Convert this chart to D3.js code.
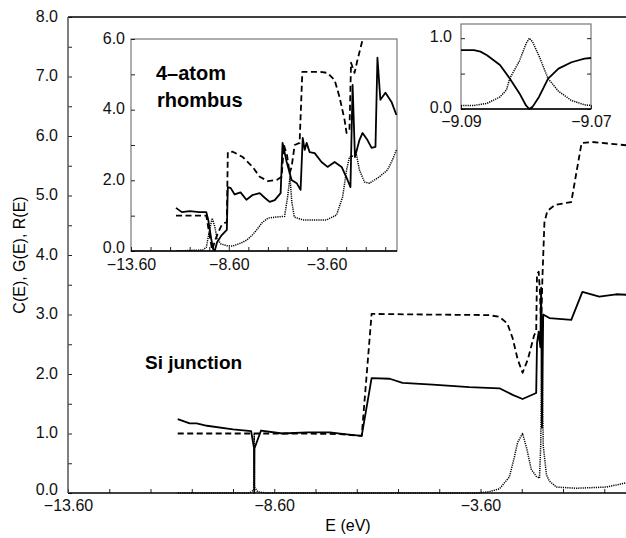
<!DOCTYPE html>
<html>
<head>
<meta charset="utf-8">
<script src="https://cdn.jsdelivr.net/npm/d3@7"></script>
<style>
  body { margin: 0; background: #fff; }
  svg { display: block; font-family: "Liberation Sans", Arial, sans-serif; }
</style>
</head>
<body>
<div id="chart"></div>
<script>
/*global d3*/

// ---- data: [E (eV), value] ----
// main panel (Si junction)
var mainC = [[-10.94,1.0],[-8.0,1.0],[-7.0,0.99],[-6.48,0.96],[-6.24,3.01],[-5.0,3.0],[-3.4,2.99],[-3.14,2.96],
  [-2.95,2.85],[-2.82,2.6],[-2.7,2.25],[-2.58,2.02],[-2.45,2.25],[-2.3,2.65],[-2.25,2.72],[-2.23,3.68],[-2.19,3.72],
  [-2.16,3.4],[-2.13,2.75],[-2.1,3.6],[-2.05,4.55],[-1.98,4.74],[-1.8,4.84],[-1.4,4.89],[-1.15,5.88],[-0.9,5.9],[0,5.84]];
var mainG = [[-10.94,1.24],[-10.65,1.17],[-10.48,1.17],[-10.23,1.13],[-9.6,1.07],[-9.16,1.04],[-9.09,0.75],[-9.085,0.0],
  [-9.08,0.75],[-8.92,1.05],[-8.4,1.0],[-7.8,1.02],[-7.25,1.02],[-6.9,0.99],[-6.48,0.96],[-6.24,1.93],[-5.8,1.92],
  [-5.49,1.85],[-4.76,1.82],[-3.87,1.78],[-3.14,1.76],[-2.82,1.65],[-2.58,1.58],[-2.25,1.68],[-2.23,2.52],[-2.19,2.71],
  [-2.15,2.45],[-2.13,3.45],[-2.11,1.1],[-2.08,3.0],[-1.93,2.94],[-1.4,2.91],[-1.13,3.38],[-0.72,3.3],[-0.31,3.34],[0,3.33]];
var mainR = [[-10.94,0.0],[-9.2,0.0],[-9.1,0.05],[-9.085,1.0],[-9.08,0.1],[-9.0,0.02],[-8.8,0.0],[-3.7,0.0],[-3.4,0.02],
  [-3.14,0.07],[-2.9,0.27],[-2.78,0.6],[-2.7,0.85],[-2.58,1.0],[-2.48,0.75],[-2.37,0.4],[-2.25,0.28],[-2.17,0.25],
  [-2.14,0.8],[-2.11,2.75],[-2.08,0.8],[-2.0,0.3],[-1.93,0.2],[-1.76,0.1],[-1.28,0.08],[-0.55,0.1],[0,0.18]];

// inset: 4-atom rhombus
var rhombC = [[-11.3,1.0],[-9.75,1.0],[-9.6,0.5],[-9.45,0.03],[-9.3,0.3],[-9.16,0.5],[-8.96,0.74],[-8.7,0.83],[-8.65,2.8],
  [-8.4,2.81],[-7.89,2.66],[-7.38,2.38],[-7.02,2.1],[-6.6,1.98],[-6.15,2.01],[-5.9,2.1],[-5.78,3.0],[-5.62,2.7],[-5.49,2.2],
  [-5.39,2.38],[-5.23,3.0],[-4.98,3.06],[-4.84,5.07],[-3.96,5.07],[-3.55,5.04],[-3.19,4.84],[-2.94,4.36],[-2.68,3.71],
  [-2.58,3.34],[-2.43,3.43],[-2.35,5.33],[-2.17,5.04],[-2.02,5.41],[-1.76,5.98],[-1.5,6.3]];
var rhombG = [[-11.3,1.22],[-11.0,1.1],[-10.6,1.13],[-10.1,1.1],[-9.75,1.1],[-9.65,0.88],[-9.5,0.35],[-9.4,0.05],[-9.32,0.0],
  [-9.2,0.25],[-8.96,0.45],[-8.7,0.6],[-8.65,1.81],[-8.5,1.78],[-8.3,1.6],[-8.0,1.66],[-7.7,1.45],[-7.4,1.58],[-7.02,1.64],
  [-6.75,1.5],[-6.51,1.39],[-6.25,1.44],[-5.95,1.64],[-5.85,3.06],[-5.64,2.52],[-5.39,2.01],[-5.13,1.92],[-4.93,1.73],
  [-4.82,3.2],[-4.72,2.86],[-4.62,3.06],[-4.47,2.8],[-4.21,2.77],[-3.86,2.52],[-3.55,2.38],[-3.19,2.52],[-2.83,2.38],
  [-2.53,2.01],[-2.38,1.81],[-2.27,4.7],[-2.15,2.66],[-1.92,3.14],[-1.76,3.34],[-1.51,3.14],[-1.3,2.92],[-1.1,2.95],
  [-1.0,5.47],[-0.85,4.28],[-0.59,4.48],[-0.28,4.22],[-0.03,3.85]];
var rhombR = [[-11.3,0.0],[-9.93,0.03],[-9.75,0.1],[-9.6,0.55],[-9.45,0.93],[-9.32,0.7],[-9.2,0.35],[-9.0,0.2],[-8.7,0.15],
  [-8.4,0.14],[-8.0,0.22],[-7.68,0.31],[-7.4,0.45],[-7.17,0.6],[-6.9,0.8],[-6.6,0.93],[-6.2,0.96],[-5.75,0.98],[-5.6,1.5],
  [-5.47,2.1],[-5.38,1.4],[-5.25,0.96],[-4.82,0.88],[-3.6,0.88],[-3.09,1.02],[-2.78,1.53],[-2.58,2.29],[-2.43,2.66],
  [-2.07,2.72],[-1.92,2.29],[-1.66,1.95],[-1.4,1.92],[-0.9,2.1],[-0.49,2.29],[-0.23,2.58],[-0.03,2.86]];

// inset: zoom on the antiresonance near -9.08 eV
var zoomG = [[-9.090,0.83],[-9.088,0.83],[-9.087,0.81],[-9.086,0.76],[-9.084,0.62],[-9.0825,0.43],[-9.081,0.22],
  [-9.080,0.05],[-9.0795,0.0],[-9.079,0.03],[-9.078,0.17],[-9.0766,0.43],[-9.075,0.57],[-9.073,0.66],[-9.071,0.71],[-9.070,0.72]];
var zoomR = [[-9.090,0.05],[-9.088,0.05],[-9.086,0.08],[-9.084,0.17],[-9.083,0.27],[-9.0825,0.43],[-9.081,0.68],
  [-9.080,0.92],[-9.0795,1.0],[-9.079,0.95],[-9.078,0.75],[-9.077,0.52],[-9.0766,0.43],[-9.075,0.25],[-9.073,0.12],
  [-9.071,0.06],[-9.070,0.05]];

// tick labels
var mainXLabels = [-13.6, -8.6, -3.6];
var mainYLabels = [0, 1, 2, 3, 4, 5, 6, 7, 8];
var rhombXLabels = [-13.6, -8.6, -3.6];
var rhombYLabels = [0, 2, 4, 6];
var zoomXLabels = [-9.09, -9.07];
var zoomYLabels = [0, 1];

var width = 626, height = 538;

var svg = d3.select("#chart").append("svg")
    .attr("width", width)
    .attr("height", height);

var fmt1 = d3.format(".1f"), fmt2 = d3.format(".2f");

function near(list, v) { return list.some(function(t) { return Math.abs(t - v) < 1e-6; }); }

function drawSeries(g, x, y, data, style, clipId) {
  var line = d3.line().x(function(d) { return x(d[0]); }).y(function(d) { return y(d[1]); });
  var p = g.append("path")
    .datum(data)
    .attr("fill", "none")
    .attr("stroke", "#000")
    .attr("stroke-linejoin", "round")
    .attr("d", line);
  if (style == "solid") p.attr("stroke-width", 1.8);
  if (style == "dashed") p.attr("stroke-width", 1.8).attr("stroke-dasharray", "6,3.5");
  if (style == "dotted") p.attr("stroke-width", 1.5).attr("stroke-dasharray", "1.2,1");
  if (clipId) p.attr("clip-path", "url(#" + clipId + ")");
}

function styleAxis(a, size) {
  a.select(".domain").remove();
  a.selectAll(".tick line").attr("stroke", "#222");
  a.selectAll(".tick text").attr("font-size", size).attr("fill", "#111")
    .attr("font-family", "Liberation Sans, Arial, sans-serif");
}

// the 0.0 label sits just above the first x label, as in the original
function liftZero(a, d) {
  a.selectAll(".tick text").filter(function(v) { return v === 0; }).attr("dy", d);
}

// ---------------- main panel ----------------
var x = d3.scaleLinear().domain([-13.6, 0]).range([68, 629]);
var y = d3.scaleLinear().domain([0, 8]).range([493, 17]);

var xAxis = svg.append("g")
  .attr("transform", "translate(0," + y(0) + ")")
  .call(d3.axisBottom(x).tickValues(d3.range(-13.6, 0.01, 1))
    .tickSizeInner(-4).tickSizeOuter(0).tickPadding(7)
    .tickFormat(function(d) { return near(mainXLabels, d) ? fmt2(d) : ""; }));
styleAxis(xAxis, 16);

var yAxis = svg.append("g")
  .attr("transform", "translate(" + x(-13.6) + ",0)")
  .call(d3.axisLeft(y).tickValues(d3.range(0, 8.01, 0.5))
    .tickSizeInner(-4).tickSizeOuter(0).tickPadding(10)
    .tickFormat(function(d) { return near(mainYLabels, d) ? fmt1(d) : ""; }));
styleAxis(yAxis, 16);
yAxis.selectAll(".tick text").attr("dy", "0.28em");
liftZero(yAxis, "0.12em");

// frame lines
svg.append("line").attr("x1", x(-13.6)).attr("x2", x(0)).attr("y1", y(8)).attr("y2", y(8))
  .attr("stroke", "#000").attr("stroke-width", 1.5);
svg.append("line").attr("x1", x(-13.6)).attr("x2", x(0)).attr("y1", y(0)).attr("y2", y(0))
  .attr("stroke", "#000").attr("stroke-width", 1.5);
svg.append("line").attr("x1", x(-13.6)).attr("x2", x(-13.6)).attr("y1", y(0)).attr("y2", y(8))
  .attr("stroke", "#555").attr("stroke-width", 1.5);

var mainG_ = svg.append("g");
drawSeries(mainG_, x, y, mainR, "dotted");
drawSeries(mainG_, x, y, mainC, "dashed");
drawSeries(mainG_, x, y, mainG, "solid");

svg.append("text")
  .attr("transform", "translate(19,255) rotate(-90)")
  .attr("text-anchor", "middle")
  .attr("dy", "0.35em")
  .attr("font-size", 16)
  .text("C(E), G(E), R(E)");

svg.append("text")
  .attr("x", 348).attr("y", 531)
  .attr("text-anchor", "middle")
  .attr("font-size", 16)
  .text("E (eV)");

svg.append("text")
  .attr("x", 145).attr("y", 369)
  .attr("font-size", 19).attr("font-weight", "bold")
  .text("Si junction");

// ---------------- inset 1: 4-atom rhombus ----------------
var x1 = d3.scaleLinear().domain([-13.6, 0]).range([131, 397]);
var y1 = d3.scaleLinear().domain([0, 6]).range([251, 39]);

svg.append("defs").append("clipPath").attr("id", "clip1")
  .append("rect").attr("x", x1(-13.6)).attr("y", y1(6))
  .attr("width", x1(0) - x1(-13.6)).attr("height", y1(0) - y1(6));

svg.append("rect")
  .attr("x", x1(-13.6)).attr("y", y1(6))
  .attr("width", x1(0) - x1(-13.6)).attr("height", y1(0) - y1(6))
  .attr("fill", "#fff").attr("stroke", "#777").attr("stroke-width", 1.2);

var ax1 = svg.append("g")
  .attr("transform", "translate(0," + y1(0) + ")")
  .call(d3.axisBottom(x1).tickValues(d3.range(-13.6, 0.01, 1))
    .tickSizeInner(-4).tickSizeOuter(0).tickPadding(8)
    .tickFormat(function(d) { return near(rhombXLabels, d) ? fmt2(d) : ""; }));
styleAxis(ax1, 16);
var ay1 = svg.append("g")
  .attr("transform", "translate(" + x1(-13.6) + ",0)")
  .call(d3.axisLeft(y1).tickValues(d3.range(0, 6.01, 1))
    .tickSizeInner(-4).tickSizeOuter(0).tickPadding(6)
    .tickFormat(function(d) { return near(rhombYLabels, d) ? fmt1(d) : ""; }));
styleAxis(ay1, 16);
ay1.selectAll(".tick text").attr("dy", "0.25em");
liftZero(ay1, "0.12em");
svg.append("line").attr("x1", x1(-13.6)).attr("x2", x1(0)).attr("y1", y1(0)).attr("y2", y1(0))
  .attr("stroke", "#000").attr("stroke-width", 1.3);

var g1 = svg.append("g");
drawSeries(g1, x1, y1, rhombR, "dotted", "clip1");
drawSeries(g1, x1, y1, rhombC, "dashed", "clip1");
drawSeries(g1, x1, y1, rhombG, "solid", "clip1");

svg.append("text").attr("x", 156).attr("y", 80)
  .attr("font-size", 20).attr("font-weight", "bold").text("4\u2013atom");
svg.append("text").attr("x", 157).attr("y", 107)
  .attr("font-size", 20).attr("font-weight", "bold").text("rhombus");

// ---------------- inset 2: zoom near -9.08 ----------------
var x2 = d3.scaleLinear().domain([-9.09, -9.07]).range([461, 591]);
var y2 = d3.scaleLinear().domain([0, 1.2]).range([109, 24]);

svg.append("rect")
  .attr("x", x2(-9.09)).attr("y", y2(1.2))
  .attr("width", x2(-9.07) - x2(-9.09)).attr("height", y2(0) - y2(1.2))
  .attr("fill", "#fff").attr("stroke", "#777").attr("stroke-width", 1.2);

var ax2 = svg.append("g")
  .attr("transform", "translate(0," + y2(0) + ")")
  .call(d3.axisBottom(x2).tickValues(zoomXLabels)
    .tickSizeInner(-4).tickSizeOuter(0).tickPadding(7)
    .tickFormat(fmt2));
styleAxis(ax2, 16);
var ay2 = svg.append("g")
  .attr("transform", "translate(" + x2(-9.09) + ",0)")
  .call(d3.axisLeft(y2).tickValues([0, 0.5, 1])
    .tickSizeInner(-4).tickSizeOuter(0).tickPadding(9)
    .tickFormat(function(d) { return near(zoomYLabels, d) ? fmt1(d) : ""; }));
styleAxis(ay2, 16);
ay2.selectAll(".tick text").attr("dy", "0.2em");
var ay2r = svg.append("g")
  .attr("transform", "translate(" + x2(-9.07) + ",0)")
  .call(d3.axisRight(y2).tickValues([0, 0.5, 1])
    .tickSizeInner(-4).tickSizeOuter(0).tickFormat(""));
styleAxis(ay2r, 16);
svg.append("line").attr("x1", x2(-9.09)).attr("x2", x2(-9.07)).attr("y1", y2(0)).attr("y2", y2(0))
  .attr("stroke", "#000").attr("stroke-width", 1.3);

var g2 = svg.append("g");
drawSeries(g2, x2, y2, zoomR, "dotted");
drawSeries(g2, x2, y2, zoomG, "solid");
</script>
</body>
</html>
